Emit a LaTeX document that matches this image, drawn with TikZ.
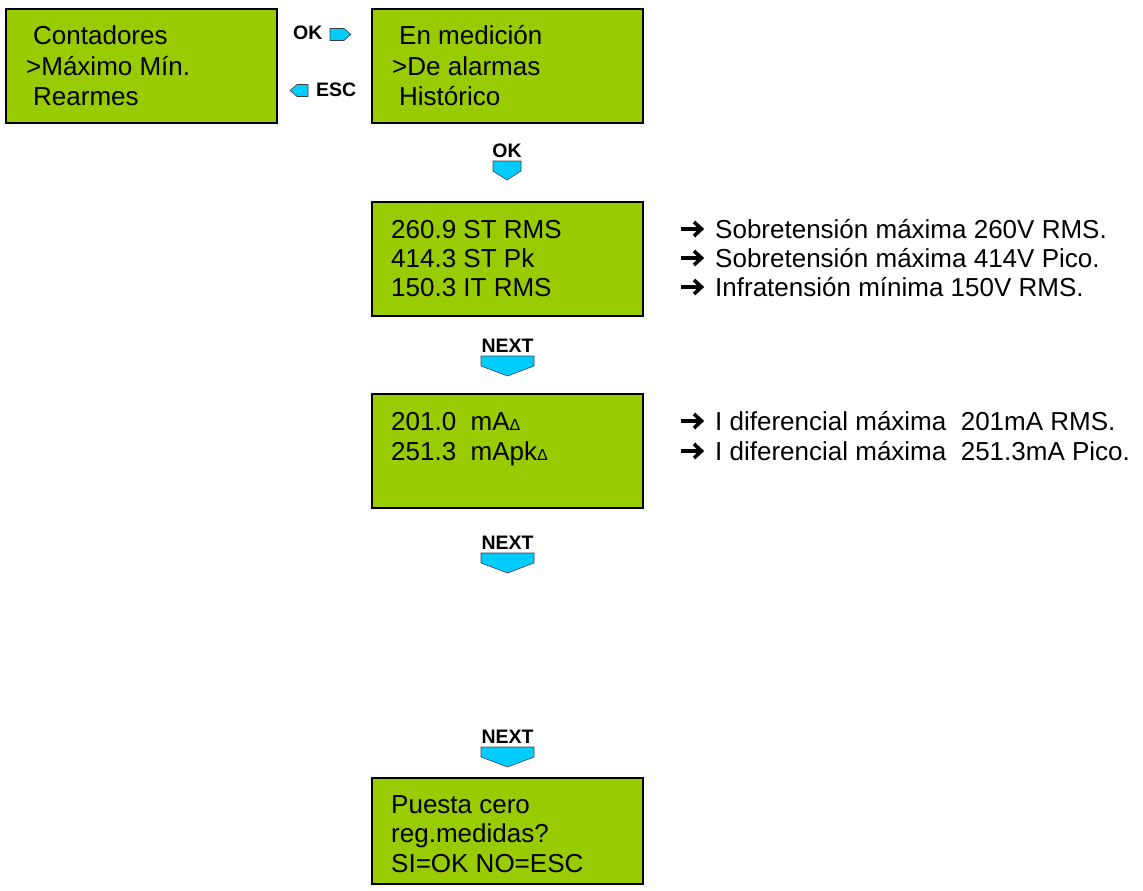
\documentclass[tikz,border=0pt]{standalone}
\usepackage{fontspec}
\setmainfont{Liberation Sans}
\definecolor{lcdgreen}{RGB}{153,204,0}
\definecolor{keycyan}{RGB}{0,204,255}

\tikzset{
  screen/.style={draw=black, line width=2.5pt, fill=lcdgreen, outer sep=0pt,
    inner sep=0pt, minimum width=271pt, minimum height=114pt, anchor=north west},
  lcd/.style={font=\fontsize{26}{30}\selectfont, inner sep=0pt, anchor=base west},
  note/.style={font=\fontsize{26}{30}\selectfont, inner sep=0pt, anchor=base west},
  keylabel/.style={font=\bfseries\fontsize{19.5}{19.5}\selectfont, inner sep=0pt},
  keyshape/.style={fill=keycyan, draw=black!75, line width=0.6pt, line join=round},
  pics/pointer/.style={code={
    \draw[line width=4pt] (0,0) -- (19,0);
    \draw[line width=3.6pt, miter limit=10] (13,-7) -- (20.5,0) -- (13,7);
  }},
}
\newcommand\tinydelta{{\fontsize{16}{16}\selectfont Δ}}

\begin{document}
\begin{tikzpicture}[x=1pt,y=-1pt]
\useasboundingbox (0,0) rectangle (1143,891);

% ---- menu screens ----
\node[screen] (b1) at (6,9) {};
\node[lcd] (b1a) at ([shift={(27,36)}]b1.north west) {Contadores};
\node[lcd] (b1b) at ([shift={(20,66)}]b1.north west) {>Máximo Mín.};
\node[lcd] (b1c) at ([shift={(27,96)}]b1.north west) {Rearmes};

\node[screen] (b2) at (372,9) {};
\node[lcd] (b2a) at ([shift={(27,36)}]b2.north west) {En medición};
\node[lcd] (b2b) at ([shift={(20,66)}]b2.north west) {>De alarmas};
\node[lcd] (b2c) at ([shift={(27,96)}]b2.north west) {Histórico};

% ---- alarm records ----
\node[screen] (b3) at (372,202) {};
\node[lcd] (b3a) at ([shift={(19,36)}]b3.north west) {260.9 ST RMS};
\node[lcd] (b3b) at ([shift={(19,65)}]b3.north west) {414.3 ST Pk};
\node[lcd] (b3c) at ([shift={(19,94)}]b3.north west) {150.3 IT RMS};

\node[screen] (b4) at (372,394) {};
\node[lcd] (b4a) at ([shift={(19,36)}]b4.north west) {201.0\ \ mA\tinydelta};
\node[lcd] (b4b) at ([shift={(19,66)}]b4.north west) {251.3\ \ mApk\tinydelta};

\node[screen, minimum height=106pt] (b5) at (372,778) {};
\node[lcd] (b5a) at ([shift={(19,35)}]b5.north west) {Puesta cero};
\node[lcd] (b5b) at ([shift={(19,64)}]b5.north west) {reg.medidas?};
\node[lcd] (b5c) at ([shift={(19,94)}]b5.north west) {SI=OK NO=ESC};

% ---- explanations ----
\foreach \src/\txt [count=\i] in {b3a/Sobretensión máxima 260V RMS.,
                                  b3b/Sobretensión máxima 414V Pico.,
                                  b3c/Infratensión mínima 150V RMS.,
                                  b4a/I diferencial máxima\ \ 201mA RMS.,
                                  b4b/I diferencial máxima\ \ 251.3mA Pico.}{
  \pic (p\i) at ([shift={(0,-9)}]\src.base -| 681,0) {pointer};
  \node[note] (n\i) at (\src.base -| 715,0) {\txt};
}

% ---- keys ----
\node[keylabel, anchor=base west] (kok) at (293,40) {OK};
\path[keyshape] (330,28.5) -- (344,28.5) -- (351,34.5) -- (344,40.5) -- (330,40.5) -- cycle;
\node[keylabel, anchor=base west] (kesc) at (316,96) {ESC};
\path[keyshape] (308,84.5) -- (297,84.5) -- (290,90.5) -- (297,96.5) -- (308,96.5) -- cycle;

\node[keylabel, anchor=base] (kdown) at (507,157) {OK};
\path[keyshape] (493,161) -- (521,161) -- (521,171) -- (507,180) -- (493,171) -- cycle;

\foreach \y [count=\i] in {356,553,747}{
  \node[keylabel, anchor=base] (next\i) at (507.5,\y-4) {NEXT};
  \path[keyshape] (481,\y) -- (534,\y) -- (534,\y+10) -- (507.5,\y+20) -- (481,\y+10) -- cycle;
}
\end{tikzpicture}
\end{document}
